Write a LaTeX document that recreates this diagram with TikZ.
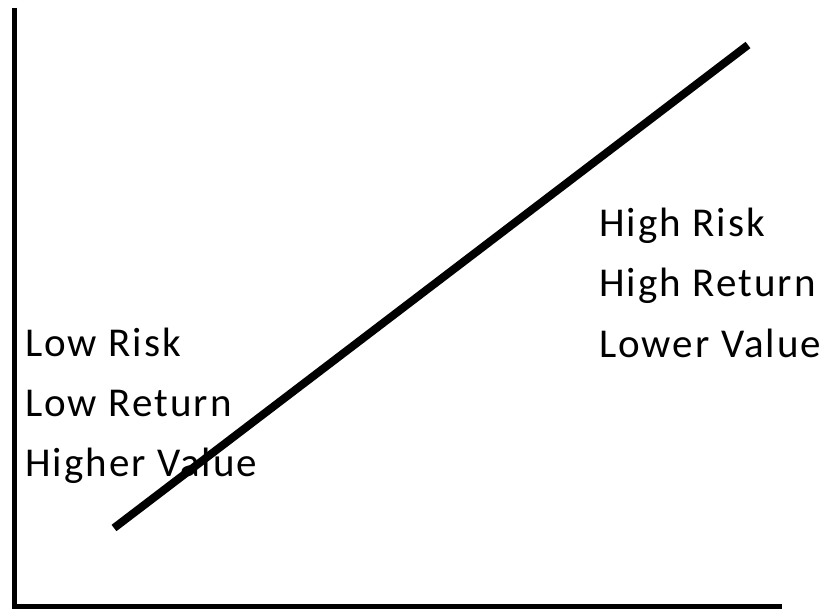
\documentclass[tikz,border=0pt]{standalone}
\usepackage{fontspec}
\setmainfont{Carlito}
\usetikzlibrary{positioning}
\tikzset{
  axis/.style={draw=black, line width=5pt, line join=miter},
  trend/.style={draw=black, line width=8pt},
  lbl/.style={anchor=base west, inner sep=0pt, font=\fontsize{41}{48}\selectfont\addfontfeatures{LetterSpace=5}},
}
\begin{document}
\begin{tikzpicture}[x=1pt, y=-1pt]
  \useasboundingbox (0,0) rectangle (829,609);
  % axes
  \coordinate (ytop) at (14.5,8);
  \coordinate (origin) at (14.5,606.5);
  \coordinate (xend) at (782,606.5);
  \draw[axis] (ytop) -- (origin) -- (xend);
  % left labels
  \node[lbl] (lrisk) at (25,356) {Low Risk};
  \node[lbl] (lret) at (25,416) {Low Return};
  \node[lbl] (lval) at (25,476) {Higher Value};
  % right labels
  \node[lbl] (hrisk) at (599,237) {High Risk};
  \node[lbl] (hret) at (599,297) {High Return};
  \node[lbl] (hval) at (599,357) {Lower Value};
  % trend line
  \coordinate (lo) at (114,528);
  \coordinate (hi) at (748,45);
  \draw[trend] (lo) -- (hi);
\end{tikzpicture}
\end{document}
